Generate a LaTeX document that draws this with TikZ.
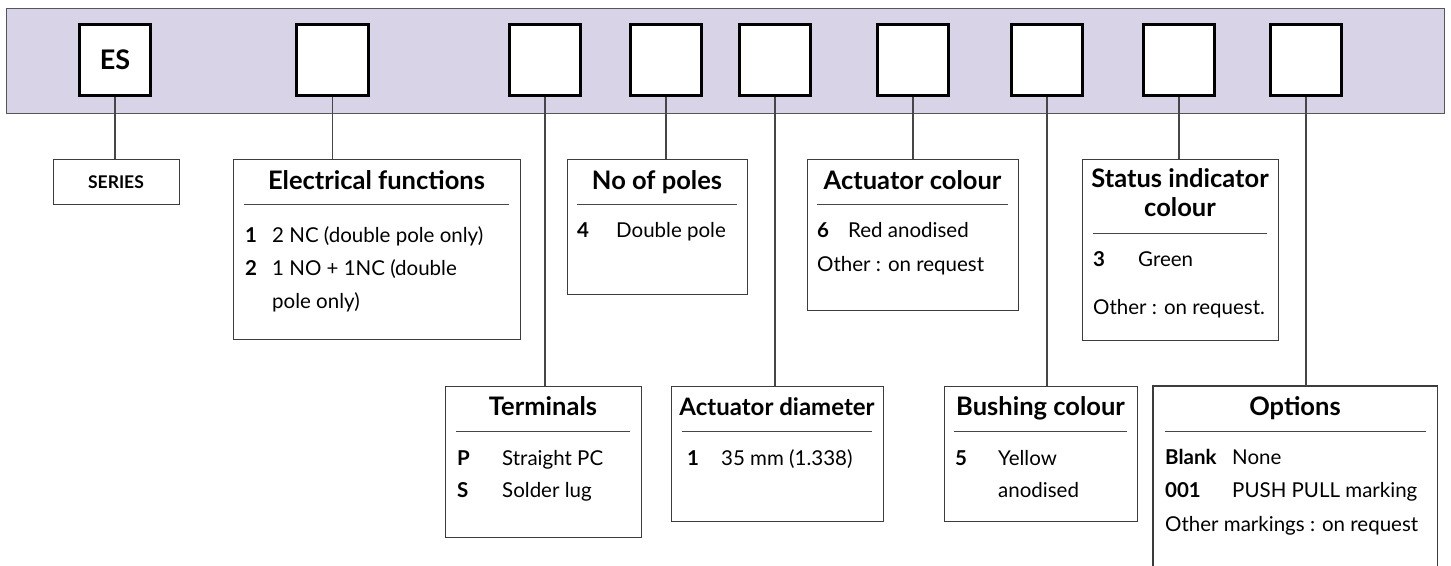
\documentclass[tikz,border=0pt]{standalone}
\usepackage{fontspec}
\setmainfont{Lato}
\definecolor{bannerfill}{RGB}{216,211,230}
\definecolor{bordergray}{RGB}{85,85,90}
\definecolor{boxgray}{RGB}{60,60,60}
\definecolor{linegray}{RGB}{70,70,70}
\tikzset{
  banner/.style={draw=bordergray, line width=1.3pt, fill=bannerfill, inner sep=0pt, anchor=north west},
  slot/.style={draw=black, line width=2.6pt, fill=white, minimum width=71.5pt, minimum height=71.5pt, inner sep=0pt},
  infobox/.style={draw=boxgray, line width=1.1pt, fill=white, inner sep=0pt, anchor=north west},
  openbox/.style={draw=none, inner sep=0pt, anchor=north west},
  link/.style={draw=linegray, line width=1.1pt},
  rulestyle/.style={draw=linegray, line width=0.9pt},
  ttl/.style={font=\bfseries\fontsize{25.5}{29}\selectfont, inner sep=0pt, anchor=base},
  keyt/.style={font=\bfseries\fontsize{20.5}{24}\selectfont, inner sep=0pt, anchor=base west},
  txt/.style={font=\fontsize{20.5}{24}\selectfont, inner sep=0pt, anchor=base west},
}
\begin{document}
\begin{tikzpicture}[x=1pt,y=-1pt]
\useasboundingbox (0,0) rectangle (1451,565);
% banner
\node[banner, minimum width=1438pt, minimum height=105pt] (bar) at (6,8) {};
% code slots
\node[slot, font=\bfseries\fontsize{27}{30}\selectfont] (s1) at (115,60) {ES};
\node[slot] (s2) at (332.5,60) {};
\node[slot] (s3) at (545,60) {};
\node[slot] (s4) at (666,60) {};
\node[slot] (s5) at (775,60) {};
\node[slot] (s6) at (913,60) {};
\node[slot] (s7) at (1047,60) {};
\node[slot] (s8) at (1179,60) {};
\node[slot] (s9) at (1306,60) {};
% boxes
\node[infobox, minimum width=126pt, minimum height=45pt] (bseries) at (53,159) {};
\node[infobox, minimum width=287pt, minimum height=180pt] (belec) at (233,159) {};
\node[infobox, minimum width=180pt, minimum height=135pt] (bpoles) at (567,159) {};
\node[infobox, minimum width=211pt, minimum height=151pt] (bactcol) at (807,159) {};
\node[infobox, minimum width=196pt, minimum height=181pt] (bstatus) at (1082,159) {};
\node[infobox, minimum width=196pt, minimum height=151pt] (bterm) at (445,386) {};
\node[infobox, minimum width=212pt, minimum height=135pt] (bactdia) at (671,386) {};
\node[infobox, minimum width=193pt, minimum height=135pt] (bbush) at (944,386) {};
\node[openbox, minimum width=284pt, minimum height=185pt] (bopt) at (1153,386) {};
\draw[draw=boxgray, line width=1.1pt] (bopt.south west) -- (bopt.north west) -- (bopt.north east) -- (bopt.south east);
% connectors
\draw[link] (s1.south) -- (s1.south |- bseries.north);
\draw[link] (s2.south) -- (s2.south |- belec.north);
\draw[link] (s3.south) -- (s3.south |- bterm.north);
\draw[link] (s4.south) -- (s4.south |- bpoles.north);
\draw[link] (s5.south) -- (s5.south |- bactdia.north);
\draw[link] (s6.south) -- (s6.south |- bactcol.north);
\draw[link] (s7.south) -- (s7.south |- bbush.north);
\draw[link] (s8.south) -- (s8.south |- bstatus.north);
\draw[link] (s9.south) -- (s9.south |- bopt.north);
% SERIES
\node[font=\bfseries\fontsize{17.5}{20}\selectfont, inner sep=0pt, anchor=base] (tseries) at (116,188) {SERIES};
% Electrical functions
\node[ttl] (telec) at (376.5,189) {Electrical functions};
\draw[rulestyle] (244,204) coordinate (relA) -- (509,204) coordinate (relB);
\node[keyt] (ke1) at (245,242) {1};
\node[txt] (te1) at (272,242) {2 NC (double pole only)};
\node[keyt] (ke2) at (245,275) {2};
\node[txt] (te2) at (272,275) {1 NO + 1NC (double};
\node[txt] (te3) at (272,308) {pole only)};
% No of poles
\node[ttl] (tpoles) at (657,189) {No of poles};
\draw[rulestyle] (577,204) coordinate (rpA) -- (737,204) coordinate (rpB);
\node[keyt] (kp1) at (577,237) {4};
\node[txt] (tp1) at (616,237) {Double pole};
% Actuator colour
\node[ttl] (tactcol) at (912.5,189) {Actuator colour};
\draw[rulestyle] (817,204) coordinate (racA) -- (1008,204) coordinate (racB);
\node[keyt] (kac1) at (817,237) {6};
\node[txt] (tac1) at (848,237) {Red anodised};
\node[txt] (tac2) at (817,271) {Other : on request};
% Status indicator colour
\node[ttl] (tstat1) at (1180,187) {Status indicator};
\node[ttl] (tstat2) at (1180,216) {colour};
\draw[rulestyle] (1093,233) coordinate (rsA) -- (1267,233) coordinate (rsB);
\node[keyt] (ks1) at (1093,266) {3};
\node[txt] (ts1) at (1138,266) {Green};
\node[txt] (ts2) at (1093,314) {Other : on request.};
% Terminals
\node[ttl] (tterm) at (543,415) {Terminals};
\draw[rulestyle] (456,431) coordinate (rtA) -- (630,431) coordinate (rtB);
\node[keyt] (kt1) at (457,465) {P};
\node[txt] (tt1) at (502,465) {Straight PC};
\node[keyt] (kt2) at (457,497) {S};
\node[txt] (tt2) at (502,497) {Solder lug};
% Actuator diameter
\node[ttl, font=\bfseries\fontsize{24}{28}\selectfont] (tactdia) at (777,415) {Actuator diameter};
\draw[rulestyle] (682,431) coordinate (radA) -- (872,431) coordinate (radB);
\node[keyt] (kad1) at (687,465) {1};
\node[txt] (tad1) at (721,465) {35 mm (1.338)};
% Bushing colour
\node[ttl] (tbush) at (1040.5,415) {Bushing colour};
\draw[rulestyle] (954,431) coordinate (rbA) -- (1127,431) coordinate (rbB);
\node[keyt] (kb1) at (955,465) {5};
\node[txt] (tb1) at (998,465) {Yellow};
\node[txt] (tb2) at (998,497) {anodised};
% Options
\node[ttl] (topt) at (1295,415) {Options};
\draw[rulestyle] (1165,431) coordinate (roA) -- (1426,431) coordinate (roB);
\node[keyt] (ko1) at (1165,464) {Blank};
\node[txt] (to1) at (1232,464) {None};
\node[keyt] (ko2) at (1165,497) {001};
\node[txt] (to2) at (1232,497) {PUSH PULL marking};
\node[txt] (to3) at (1165,531) {Other markings : on request};
\end{tikzpicture}
\end{document}
